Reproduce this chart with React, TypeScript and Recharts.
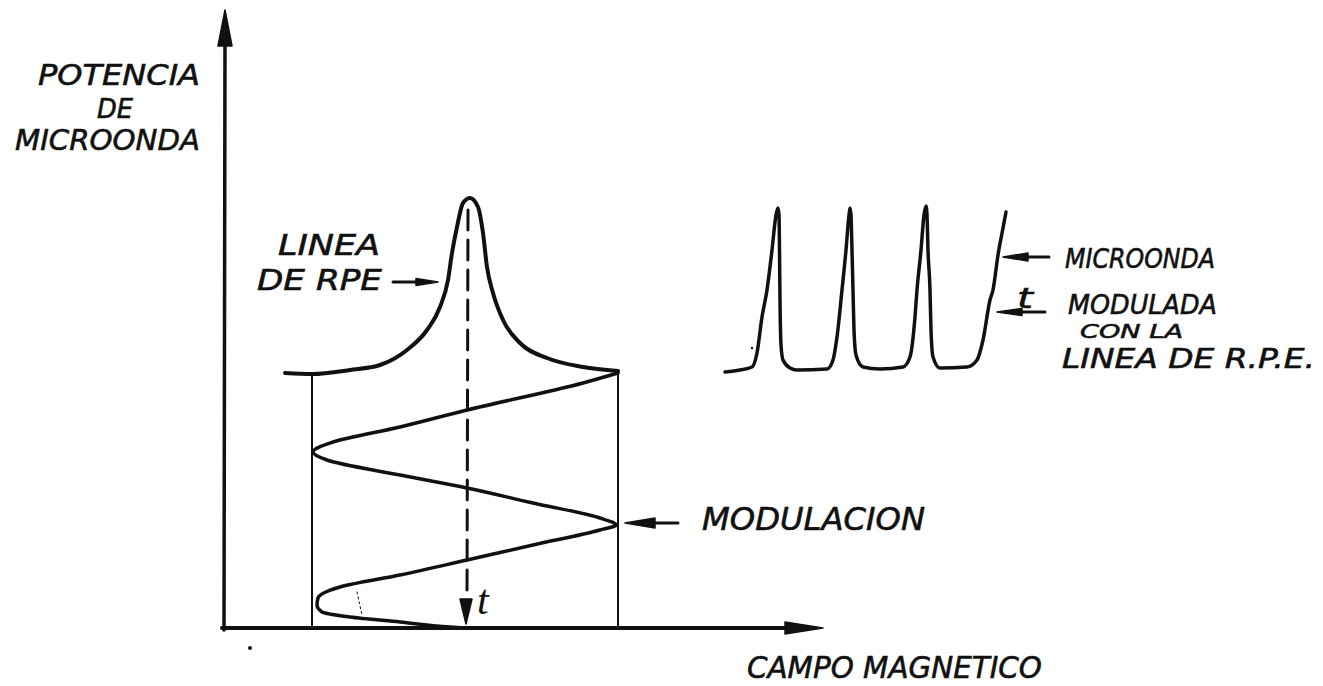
import { ComposedChart, Line, XAxis, YAxis, ReferenceLine, ReferenceDot } from 'recharts';

// EPR absorption line: magnetic field (from origin) vs microwave power
const eprField = [60, 87, 125, 155, 182, 202, 215, 223, 227, 232, 238, 245, 253, 258, 262, 268, 278, 295, 322, 358, 393];
const eprPower = [255, 254, 258, 263, 278, 298, 321, 348, 375, 401, 425, 430, 421, 395, 361, 335, 308, 285, 270, 261, 257];

// field modulation, time running downwards from the top of the box
const modTime = [0, 10, 37, 54, 69, 79, 87, 102, 115, 130, 145, 152, 157, 172, 187, 202, 214, 225, 232, 239, 244, 249, 254, 255];
const modField = [393, 358, 242, 175, 108, 88, 102, 175, 242, 308, 375, 391, 375, 308, 242, 175, 115, 93, 92, 97, 125, 175, 225, 240];

// microwave power modulated by the EPR line, against time
const sigTime = [0, 15, 27, 32, 37, 42, 47, 51, 53, 54, 54.5, 55, 56, 58, 65, 72, 102, 108, 112, 117, 121, 124, 125, 126, 127, 128, 129, 131, 138, 155, 178, 185, 190, 192, 196, 199, 201, 202, 203, 205, 206, 208, 215, 242, 252, 258, 265, 268, 273, 278, 281];
const sigPower = [256, 258, 261, 275, 311, 338, 378, 413, 420, 413, 378, 328, 283, 268, 260, 258, 259, 268, 291, 338, 378, 413, 420, 413, 378, 338, 298, 273, 261, 259, 261, 271, 311, 338, 378, 413, 422, 413, 378, 338, 298, 271, 260, 261, 268, 288, 328, 338, 373, 400, 416];

const eprData = eprField.map((x, i) => ({ x, y: eprPower[i] }));
const modData = modField.map((x, i) => ({ x, y: modTime[i] }));
const sigData = sigTime.map((x, i) => ({ x, y: sigPower[i] }));

const INK = '#111';

type HeadProps = { cx?: number; cy?: number; dir: 'up' | 'down' | 'left' | 'right'; len: number; half: number };

// filled arrow head with its tip on (cx, cy)
const Head = ({ cx = 0, cy = 0, dir, len, half }: HeadProps) => {
  let pts = '';
  if (dir === 'up') pts = `${cx},${cy} ${cx - half},${cy + len} ${cx + half},${cy + len}`;
  if (dir === 'down') pts = `${cx},${cy} ${cx - half},${cy - len} ${cx + half},${cy - len}`;
  if (dir === 'left') pts = `${cx},${cy} ${cx + len},${cy - half} ${cx + len},${cy + half}`;
  if (dir === 'right') pts = `${cx},${cy} ${cx - len},${cy - half} ${cx - len},${cy + half}`;
  return <polygon points={pts} fill={INK} stroke={INK} strokeWidth={1.5} strokeLinejoin="round" />;
};

// annotation arrows, in field / power units
const heads: { x: number; y: number; dir: 'up' | 'down' | 'left' | 'right'; len: number; half: number }[] = [
  { x: 0, y: 618, dir: 'up', len: 36, half: 7 },
  { x: 598, y: 0, dir: 'right', len: 38, half: 6 },
  { x: 241, y: 4, dir: 'down', len: 25, half: 6 },
  { x: 213, y: 346, dir: 'right', len: 22, half: 3.5 },
  { x: 778, y: 371, dir: 'left', len: 25, half: 4 },
  { x: 772, y: 316, dir: 'left', len: 25, half: 3.5 },
  { x: 400, y: 105, dir: 'left', len: 30, half: 5 },
];

const segs: { a: [number, number]; b: [number, number]; w: number; dash?: string }[] = [
  { a: [-1, -2], b: [0, 590], w: 3.5 },
  { a: [-3, 0], b: [570, 0], w: 4 },
  { a: [87, 0], b: [87, 255], w: 2 },
  { a: [393, 0], b: [393, 257], w: 2 },
  { a: [243, 418], b: [242, 26], w: 3, dash: '20 10' },
  { a: [168, 346], b: [200, 346], w: 3 },
  { a: [824, 371], b: [790, 371], w: 3 },
  { a: [820, 316], b: [785, 316], w: 3 },
  { a: [453, 105], b: [415, 105], w: 3 },
  { a: [132, 36], b: [137, 13], w: 1, dash: '2 3' },
];

const Hand = ({ x, y, w, size, children }: { x: number; y: number; w: number; size: number; children: string }) => (
  <text
    x={x}
    y={y}
    fontFamily="'DejaVu Sans', sans-serif"
    fontStyle="italic"
    fontSize={size}
    fill={INK}
    stroke={INK}
    strokeWidth={0.6}
    textLength={w}
    lengthAdjust="spacingAndGlyphs"
  >
    {children}
  </text>
);

export default function App() {
  return (
    <div style={{ position: 'absolute', left: 0, top: 0, background: '#fff' }}>
      <ComposedChart width={1323} height={686} margin={{ top: 0, right: 0, bottom: 0, left: 0 }}>
        <XAxis xAxisId="f" type="number" dataKey="x" domain={[-225, 1098]} allowDataOverflow hide />
        <XAxis xAxisId="th" type="number" dataKey="x" domain={[-725, 598]} allowDataOverflow hide />
        <YAxis yAxisId="p" type="number" domain={[-58, 628]} allowDataOverflow hide />
        <YAxis yAxisId="tv" type="number" domain={[-373, 313]} reversed allowDataOverflow hide />

        {segs.map((s, i) => (
          <ReferenceLine
            key={`s-${i}`}
            xAxisId="f"
            yAxisId="p"
            segment={[{ x: s.a[0], y: s.a[1] }, { x: s.b[0], y: s.b[1] }]}
            stroke={INK}
            strokeWidth={s.w}
            strokeDasharray={s.dash}
            strokeLinecap="round"
          />
        ))}

        <Line
          data={eprData}
          xAxisId="f"
          yAxisId="p"
          dataKey="y"
          type="monotone"
          stroke={INK}
          strokeWidth={4}
          strokeLinecap="round"
          dot={false}
          activeDot={false}
          isAnimationActive={false}
        />
        <Line
          data={modData}
          xAxisId="f"
          yAxisId="tv"
          dataKey="y"
          type="monotoneY"
          stroke={INK}
          strokeWidth={3.5}
          strokeLinecap="round"
          dot={false}
          activeDot={false}
          isAnimationActive={false}
        />
        <Line
          data={sigData}
          xAxisId="th"
          yAxisId="p"
          dataKey="y"
          type="monotone"
          stroke={INK}
          strokeWidth={3.5}
          strokeLinecap="round"
          strokeLinejoin="round"
          dot={false}
          activeDot={false}
          isAnimationActive={false}
        />

        {heads.map((h, i) => (
          <ReferenceDot
            key={`h-${i}`}
            xAxisId="f"
            yAxisId="p"
            x={h.x}
            y={h.y}
            r={1}
            shape={(p: any) => <Head cx={p.cx} cy={p.cy} dir={h.dir} len={h.len} half={h.half} />}
          />
        ))}
        <ReferenceDot xAxisId="f" yAxisId="p" x={25} y={-20} r={2} fill={INK} stroke="none" />
        <ReferenceDot xAxisId="f" yAxisId="p" x={527} y={280} r={1.2} fill={INK} stroke="none" />

        <g>
          <Hand x={38} y={85} w={162} size={29}>POTENCIA</Hand>
          <Hand x={97} y={118} w={36} size={27}>DE</Hand>
          <Hand x={15} y={150} w={185} size={29}>MICROONDA</Hand>
          <Hand x={278} y={255} w={102} size={29}>LINEA</Hand>
          <Hand x={257} y={290} w={125} size={29}>DE RPE</Hand>
          <Hand x={1065} y={268} w={150} size={27}>MICROONDA</Hand>
          <Hand x={1068} y={314} w={149} size={27}>MODULADA</Hand>
          <Hand x={1080} y={338} w={103} size={20}>CON LA</Hand>
          <Hand x={1062} y={368} w={253} size={27}>LINEA DE R.P.E.</Hand>
          <Hand x={702} y={530} w={223} size={32}>MODULACION</Hand>
          <Hand x={747} y={678} w={295} size={30}>CAMPO MAGNETICO</Hand>
          <Hand x={1017} y={308} w={16} size={28}>t</Hand>
          <text x={477} y={614} fontFamily="'Liberation Serif', serif" fontStyle="italic" fontSize={42} fill={INK}>
            t
          </text>
        </g>
      </ComposedChart>
    </div>
  );
}
